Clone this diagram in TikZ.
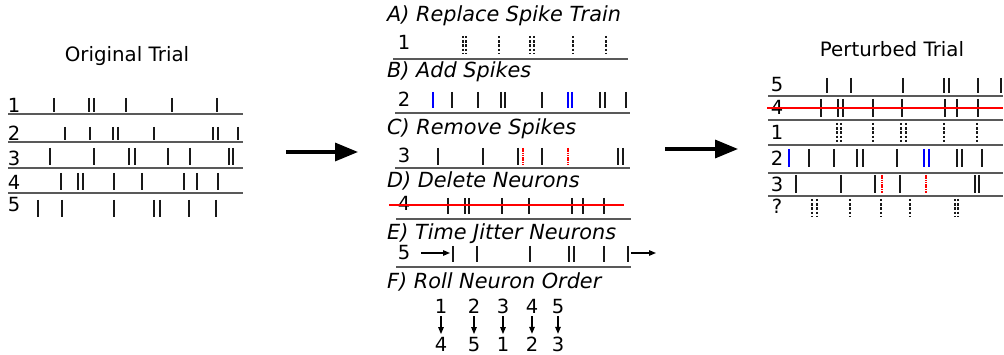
\documentclass[tikz,border=0pt]{standalone}
\usepackage{fontspec}
\setmainfont{DejaVu Sans}
\usetikzlibrary{arrows.meta}
\newcommand\sptrain[4]{\foreach \xx in {#4} {\draw[#1] (\xx,#2) -- (\xx,#3);}}
\begin{document}
\begin{tikzpicture}[x=1pt,y=-1pt,
  spk/.style={line width=1.8pt, black!90},
  dspk/.style={line width=1.5pt, black!90, dash pattern=on 2.4pt off 1.8pt},
  bspk/.style={line width=1.8pt, blue},
  rspk/.style={line width=1.3pt, red, dash pattern=on 1.6pt off 0.7pt},
  sepline/.style={line width=1.3pt, black!65},
  strike/.style={line width=1.2pt, red},
  lbl/.style={inner sep=0pt, anchor=base, font=\fontsize{19.5}{22}\selectfont},
  hd/.style={inner sep=0pt, anchor=base, font=\fontsize{19.8}{22}\selectfont},
  ttl/.style={inner sep=0pt, anchor=base west, font=\fontsize{20.8}{23}\selectfont\itshape},
  big/.style={line width=3.3pt, -{Triangle[length=23pt,width=18pt]}},
  sarr/.style={line width=1.3pt, -{Triangle[length=7pt,width=5.5pt]}},
]
\useasboundingbox (0,0) rectangle (1004,355);

% ---------------- Original trial ----------------
\node[hd] (origT) at (127,62) {Original Trial};
\node[lbl] (oL1) at (14,112.3) {1};
\node[lbl] (oL2) at (14,141) {2};
\node[lbl] (oL3) at (14,165.5) {3};
\node[lbl] (oL4) at (14,189.5) {4};
\node[lbl] (oL5) at (14,212) {5};
\foreach \yy in {114,142,168,193} {\draw[sepline] (8,\yy) -- (243,\yy);}
\sptrain{spk}{98}{112}{54,89,94,126,172,217}
\sptrain{spk}{127}{140}{65,90,113,118,154,213,218,238}
\sptrain{spk}{148}{165}{50,94,129,135,168,190,229,233}
\sptrain{spk}{173}{190}{61,78,83,114,142,184,197,218}
\sptrain{spk}{200}{217}{38,62,114,154,160,189,216}

% ---------------- big arrows ----------------
\coordinate (a1s) at (286,152);
\coordinate (a1e) at (358,152);
\draw[big] (a1s) -- (a1e);
\coordinate (a2s) at (665,149);
\coordinate (a2e) at (738,149);
\draw[big] (a2s) -- (a2e);

% ---------------- perturbations ----------------
\node[ttl] (tA) at (387,21.7) {A) Replace Spike Train};
\node[lbl] (mL1) at (404,50) {1};
\sptrain{dspk}{36}{53}{463,466,499,530,534,573,606}
\draw[sepline] (393,59) -- (628,59);

\node[ttl] (tB) at (387,78) {B) Add Spikes};
\node[lbl] (mL2) at (404,106.5) {2};
\sptrain{spk}{92}{108}{452,478,501,505,542,600,605,626}
\sptrain{bspk}{92}{108}{433,568,572}
\draw[sepline] (395,113) -- (630,113);

\node[ttl] (tC) at (387,134.3) {C) Remove Spikes};
\node[lbl] (mL3) at (404,163) {3};
\sptrain{spk}{148}{165}{438,483,518,542,618,623}
\sptrain{rspk}{148}{165}{523,568}
\draw[sepline] (395,168) -- (630,168);

\node[ttl] (tD) at (387,187.7) {D) Delete Neurons};
\node[lbl] (mL4) at (404,211) {4};
\sptrain{spk}{198}{214}{448,465,469,502,529,572,583,604}
\draw[strike] (389,205) -- (624,205);
\draw[sepline] (396,219) -- (631,219);

\node[ttl] (tE) at (387,239.3) {E) Time Jitter Neurons};
\node[lbl] (mL5) at (404,260) {5};
\sptrain{spk}{246}{262}{453,477,530,569,574,604,628}
\coordinate (j1s) at (421,253);
\coordinate (j1e) at (450,253);
\draw[sarr] (j1s) -- (j1e);
\coordinate (j2s) at (631,253);
\coordinate (j2e) at (656,253);
\draw[sarr] (j2s) -- (j2e);
\draw[sepline] (396,267) -- (631,267);

\node[ttl] (tF) at (387,289) {F) Roll Neuron Order};
\foreach \nm/\xx/\top/\bot in {r1/441/1/4, r2/474/2/5, r3/503/3/1, r4/532/4/2, r5/558/5/3} {
  \node[lbl] (\nm t) at (\xx,313.5) {\top};
  \node[lbl] (\nm b) at (\xx,352) {\bot};
  \draw[sarr, shorten <=2.5pt, shorten >=3.5pt] (\nm t.south) -- (\nm b.north);
}

% ---------------- Perturbed trial ----------------
\node[hd] (pertT) at (892,56.5) {Perturbed Trial};
\node[lbl] (pL5) at (777,91.7) {5};
\node[lbl] (pL4) at (777,115) {4};
\node[lbl] (pL1) at (777,140) {1};
\node[lbl] (pL2) at (777,166) {2};
\node[lbl] (pL3) at (777,191.7) {3};
\node[lbl] (pLq) at (777,214) {?};
\foreach \yy in {96,120,145,173,196} {\draw[sepline] (768,\yy) -- (1003,\yy);}
\sptrain{spk}{78}{93}{827,851,903,944,949,978,1001}
\sptrain{spk}{99}{117}{821,838,843,873,902,945,957,978}
\draw[strike] (767,108) -- (1003,108);
\sptrain{dspk}{123}{142}{837,841,873,901,906,944,977}
\sptrain{spk}{149}{167}{809,834,857,863,897,957,962,982}
\sptrain{bspk}{149}{167}{789,924,929}
\sptrain{spk}{175}{193}{796,841,875,900,975,979}
\sptrain{rspk}{175}{193}{882,926}
\sptrain{dspk}{199}{217}{812,817,850,881,910,955,958}
\end{tikzpicture}
\end{document}
